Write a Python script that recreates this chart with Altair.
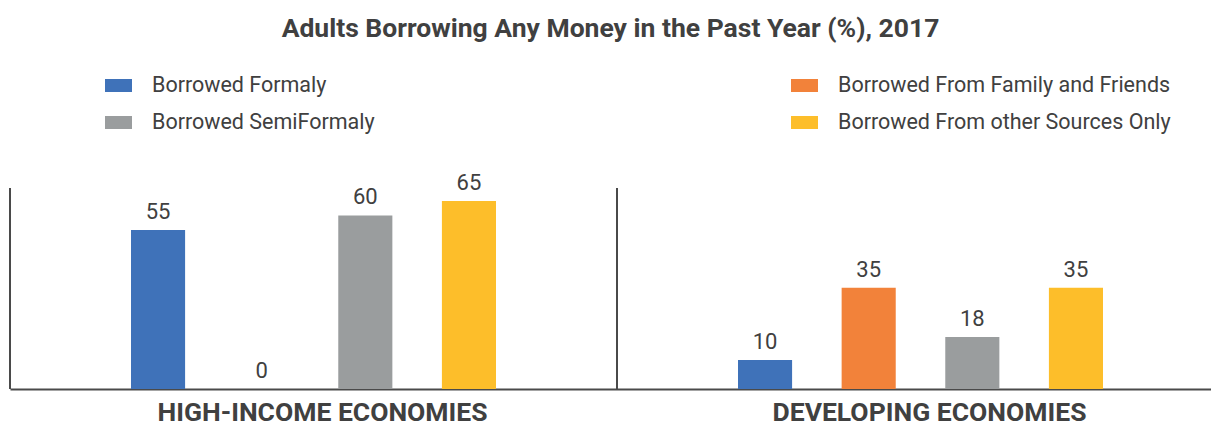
import altair as alt
import pandas as pd

economies = ["HIGH-INCOME ECONOMIES", "DEVELOPING ECONOMIES"]
series = ["Borrowed Formaly", "Borrowed From Family and Friends",
          "Borrowed SemiFormaly", "Borrowed From other Sources Only"]
high_income = [55, 0, 60, 65]
developing = [10, 35, 18, 35]
colors = ["#3f72b9", "#f2823a", "#9a9d9e", "#fdbe2a"]
# legend reads row by row: Formaly | Family, SemiFormaly | Other
legend_order = [series[0], series[2], series[1], series[3]]
legend_colors = [colors[0], colors[2], colors[1], colors[3]]

rows = []
for eco, vals in zip(economies, [high_income, developing]):
    for s, v in zip(series, vals):
        rows.append({"economy": eco, "series": s, "value": v})
df = pd.DataFrame(rows)
eco_df = pd.DataFrame({"economy": economies})

TXT = "#404040"
LINE = "#4a4a4a"

x_enc = alt.X("economy:N", sort=economies,
              scale=alt.Scale(range=[0, 1214], paddingInner=0, paddingOuter=0),
              axis=alt.Axis(title=None, ticks=False, labelAngle=0, labelFont="Roboto",
                            labelFontSize=26.5, labelFontWeight="bold", labelColor=TXT,
                            domainColor=LINE, domainWidth=2, labelPadding=10,
                            labelLimit=0, labelOffset=9))
xo_enc = alt.XOffset("series:N", sort=series,
                     scale=alt.Scale(range=[121, 486], paddingInner=0.478, paddingOuter=0))
y_enc = alt.Y("value:Q", scale=alt.Scale(domain=[0, 69.5]), axis=None)

bars = alt.Chart(df).mark_bar().encode(
    x=x_enc, xOffset=xo_enc, y=y_enc,
    color=alt.Color("series:N",
                    scale=alt.Scale(domain=legend_order, range=legend_colors),
                    legend=alt.Legend(title=None, orient="none", legendX=95, legendY=-116,
                                      columns=2, columnPadding=416, rowPadding=13,
                                      symbolType="M-1,-0.48H1V0.48H-1Z", symbolSize=729,
                                      symbolStrokeWidth=0, symbolOpacity=1,
                                      labelFont="Roboto", labelFontSize=21.5, labelColor=TXT,
                                      labelOffset=20, labelLimit=0)),
)

labels = alt.Chart(df).mark_text(dy=-11, baseline="alphabetic", font="Roboto",
                                 fontSize=22, color=TXT).encode(
    x=x_enc, xOffset=xo_enc, y=y_enc, text="value:Q")

dividers = alt.Chart(eco_df).mark_rule(color=LINE, strokeWidth=2).encode(
    x=alt.X("economy:N", sort=economies, bandPosition=0),
    y=alt.value(0), y2=alt.value(201))

chart = alt.layer(bars, labels, dividers).properties(
    width=1201, height=201,
    title=alt.TitleParams("Adults Borrowing Any Money in the Past Year (%), 2017",
                          font="Roboto", fontSize=26.5, fontWeight="bold", color=TXT,
                          anchor="middle", dy=-26),
    autosize=alt.AutoSizeParams(type="none"),
    padding={"left": 10, "top": 188, "right": 0, "bottom": 32},
).configure_view(stroke=None)

chart.save("out.html", embed_options={"renderer": "svg", "actions": False})
